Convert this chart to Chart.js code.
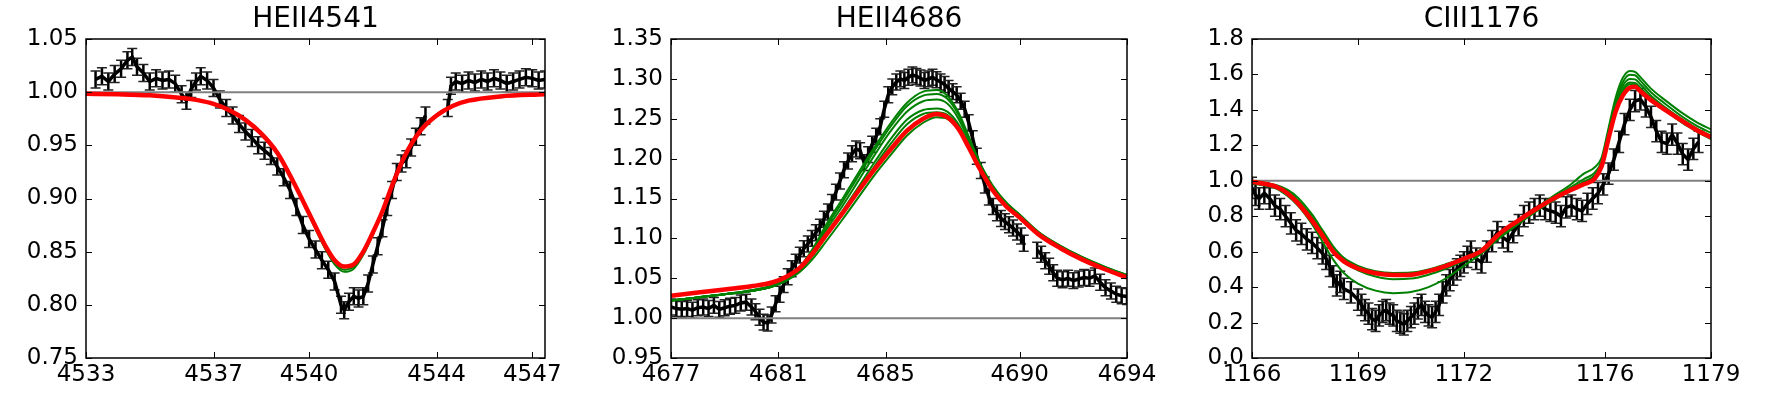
<!DOCTYPE html>
<html>
<head>
<meta charset="utf-8">
<script src="https://cdn.jsdelivr.net/npm/chart.js@4.4.1/dist/chart.umd.min.js"></script>
<style>
    body { margin: 0; background: #fff; width: 1767px; height: 394px; overflow: hidden; position: relative; }
    .panel { position: absolute; top: 0; height: 394px; }
</style>
</head>
<body>
<div class="panel" style="left:6px"><canvas id="he4541" width="579" height="394"></canvas></div>
<div class="panel" style="left:591px"><canvas id="he4686" width="576" height="394"></canvas></div>
<div class="panel" style="left:1172px"><canvas id="c1176" width="579" height="394"></canvas></div>
<script>
// ---- HEII4541 ----
const wlObs1 = [4533.3, 4533.5, 4533.7, 4533.9, 4534.1, 4534.3, 4534.45, 4534.6, 4534.8, 4535.0, 4535.2, 4535.4, 4535.6, 4535.8,
    4536.0, 4536.15, 4536.3, 4536.45, 4536.6, 4536.8, 4537.0, 4537.2, 4537.4, 4537.6, 4537.8, 4538.0, 4538.2, 4538.4, 4538.6,
    4538.8, 4539.0, 4539.2, 4539.4, 4539.6, 4539.8, 4540.0, 4540.2, 4540.4, 4540.6, 4540.8, 4541.0, 4541.1, 4541.25, 4541.4,
    4541.55, 4541.7, 4541.85, 4542.0, 4542.15, 4542.3, 4542.45, 4542.6, 4542.75, 4542.9, 4543.05, 4543.2, 4543.35, 4543.5,
    4543.65, 4544.0, 4544.35, 4544.45, 4544.6, 4544.8, 4545.0, 4545.2, 4545.4, 4545.6, 4545.8, 4546.0, 4546.2, 4546.4,
    4546.6, 4546.8, 4547.0, 4547.2, 4547.4]
const fluxObs1 = [1.012, 1.015, 1.010, 1.017, 1.022, 1.030, 1.033, 1.024, 1.018, 1.010, 1.013, 1.011, 1.012, 1.008,
    0.998, 0.992, 1.003, 1.010, 1.015, 1.011, 1.004, 0.993, 0.985, 0.978, 0.970, 0.963, 0.957, 0.950, 0.945,
    0.940, 0.930, 0.920, 0.908, 0.892, 0.875, 0.862, 0.852, 0.842, 0.833, 0.822, 0.800, 0.795, 0.803, 0.808,
    0.806, 0.808, 0.820, 0.838, 0.855, 0.872, 0.892, 0.908, 0.925, 0.933, 0.937, 0.948, 0.958, 0.968,
    0.978, null, 0.985, 1.006, 1.010, 1.008, 1.011, 1.009, 1.012, 1.010, 1.013, 1.011, 1.008, 1.010,
    1.012, 1.014, 1.013, 1.011, 1.012]
const errObs1 = 0.008
const wlMod1 = [4533, 4534, 4535, 4536, 4536.5, 4537, 4537.5, 4538, 4538.5, 4539, 4539.5, 4540, 4540.5, 4540.8,
    4541.1, 4541.4, 4541.7, 4542, 4542.3, 4542.6, 4543, 4543.5, 4544, 4544.5, 4545, 4546, 4547.4]
const redMod1 = [0.9985, 0.998, 0.997, 0.9945, 0.9925, 0.989, 0.983, 0.974, 0.961, 0.943, 0.916, 0.886, 0.856, 0.842,
    0.836, 0.838, 0.850, 0.868, 0.888, 0.912, 0.940, 0.964, 0.978, 0.987, 0.992, 0.996, 0.998]
const greenMods1 = [
    [0.9985, 0.998, 0.997, 0.9945, 0.9925, 0.989, 0.9835, 0.975, 0.962, 0.944, 0.916, 0.884, 0.853, 0.838,
        0.831, 0.834, 0.847, 0.866, 0.888, 0.913, 0.941, 0.965, 0.979, 0.987, 0.992, 0.996, 0.998],
    [0.9985, 0.998, 0.997, 0.9945, 0.9925, 0.989, 0.9832, 0.9745, 0.9615, 0.9435, 0.916, 0.885, 0.854, 0.840,
        0.833, 0.836, 0.848, 0.867, 0.888, 0.913, 0.941, 0.965, 0.979, 0.987, 0.992, 0.996, 0.998]
]
const xTicks1 = [4533, 4537, 4540, 4544, 4547]
const yTicks1 = [0.75, 0.80, 0.85, 0.90, 0.95, 1.00, 1.05]

// ---- HEII4686 ----
const wlObs2 = [4677.0, 4677.2, 4677.4, 4677.6, 4677.8, 4678.0, 4678.2, 4678.4, 4678.6, 4678.8, 4679.0, 4679.2, 4679.4,
    4679.6, 4679.8, 4680.0, 4680.15, 4680.3, 4680.45, 4680.6, 4680.75, 4680.9, 4681.05, 4681.2, 4681.35, 4681.5, 4681.65,
    4681.8, 4681.95, 4682.1, 4682.25, 4682.4, 4682.55, 4682.7, 4682.85, 4683.0, 4683.15, 4683.3, 4683.45, 4683.6, 4683.75,
    4683.9, 4684.05, 4684.2, 4684.35, 4684.5, 4684.65, 4684.8, 4684.95, 4685.1, 4685.25, 4685.4, 4685.55, 4685.7, 4685.85,
    4686.0, 4686.15, 4686.3, 4686.45, 4686.6, 4686.75, 4686.9, 4687.05, 4687.2, 4687.35, 4687.5, 4687.65, 4687.8, 4687.95,
    4688.1, 4688.25, 4688.4, 4688.55, 4688.7, 4688.85, 4689.0, 4689.15, 4689.3, 4689.45, 4689.6, 4689.75, 4689.9, 4690.05,
    4690.15, 4690.4, 4690.65, 4690.8, 4690.95, 4691.1, 4691.25, 4691.4, 4691.6, 4691.8, 4692.0, 4692.2, 4692.4, 4692.6,
    4692.8, 4693.0, 4693.2, 4693.4, 4693.6, 4693.8, 4694.0]
const fluxObs2 = [1.014, 1.012, 1.011, 1.012, 1.010, 1.013, 1.014, 1.012, 1.016, 1.011, 1.013, 1.015, 1.016,
    1.019, 1.020, 1.014, 1.008, 1.001, 0.995, 0.994, 1.004, 1.018, 1.030, 1.042, 1.052, 1.062, 1.070,
    1.079, 1.087, 1.093, 1.100, 1.107, 1.114, 1.124, 1.133, 1.145, 1.158, 1.172, 1.186, 1.197, 1.206,
    1.212, 1.210, 1.195, 1.205, 1.218, 1.228, 1.240, 1.262, 1.280, 1.290, 1.296, 1.300, 1.298, 1.302,
    1.305, 1.303, 1.301, 1.298, 1.300, 1.302, 1.299, 1.296, 1.293, 1.288, 1.284, 1.280, 1.272, 1.262,
    1.245, 1.225, 1.203, 1.185, 1.167, 1.152, 1.140, 1.132, 1.125, 1.121, 1.117, 1.113, 1.108, 1.103,
    1.094, null, 1.085, 1.080, 1.072, 1.065, 1.057, 1.050, 1.048, 1.050, 1.047, 1.049, 1.051, 1.050,
    1.053, 1.045, 1.038, 1.034, 1.030, 1.028, 1.027]
const errObs2 = 0.010
const wlMod2 = [4677, 4678, 4679, 4680, 4680.8, 4681.3, 4681.8, 4682.3, 4682.8, 4683.4, 4684, 4684.6, 4685.2, 4685.8,
    4686.4, 4686.9, 4687.3, 4687.7, 4688.1, 4688.5, 4689, 4689.5, 4690, 4690.7, 4691.5, 4692.3, 4693.2, 4694]
const redMod2 = [1.028, 1.032, 1.036, 1.040, 1.045, 1.052, 1.063, 1.082, 1.105, 1.132, 1.160, 1.187, 1.212, 1.235,
    1.250, 1.256, 1.252, 1.238, 1.214, 1.188, 1.160, 1.140, 1.126, 1.105, 1.088, 1.074, 1.061, 1.051]
const greenMods2 = [
    [1.022, 1.026, 1.030, 1.035, 1.041, 1.049, 1.064, 1.088, 1.118, 1.150, 1.183, 1.215, 1.245, 1.270,
        1.284, 1.286, 1.279, 1.259, 1.228, 1.196, 1.165, 1.144, 1.129, 1.108, 1.091, 1.077, 1.064, 1.054],
    [1.022, 1.026, 1.030, 1.035, 1.041, 1.049, 1.063, 1.086, 1.115, 1.146, 1.179, 1.211, 1.241, 1.266,
        1.279, 1.281, 1.275, 1.256, 1.226, 1.195, 1.164, 1.143, 1.128, 1.107, 1.090, 1.076, 1.063, 1.053],
    [1.022, 1.026, 1.030, 1.034, 1.040, 1.048, 1.062, 1.084, 1.111, 1.141, 1.173, 1.205, 1.235, 1.259,
        1.272, 1.274, 1.269, 1.251, 1.223, 1.193, 1.163, 1.142, 1.128, 1.107, 1.090, 1.076, 1.063, 1.053],
    [1.022, 1.026, 1.030, 1.034, 1.040, 1.048, 1.061, 1.081, 1.106, 1.135, 1.165, 1.196, 1.225, 1.249,
        1.261, 1.263, 1.259, 1.244, 1.219, 1.191, 1.162, 1.142, 1.127, 1.107, 1.090, 1.076, 1.063, 1.053],
    [1.022, 1.026, 1.030, 1.034, 1.040, 1.047, 1.060, 1.079, 1.103, 1.131, 1.161, 1.191, 1.219, 1.243,
        1.256, 1.258, 1.255, 1.241, 1.218, 1.190, 1.162, 1.142, 1.127, 1.107, 1.090, 1.076, 1.063, 1.054],
    [1.022, 1.026, 1.030, 1.034, 1.040, 1.047, 1.058, 1.075, 1.097, 1.124, 1.152, 1.180, 1.205, 1.229,
        1.245, 1.252, 1.250, 1.238, 1.218, 1.194, 1.166, 1.145, 1.130, 1.108, 1.091, 1.077, 1.064, 1.054]
]
const xTicks2 = [4677, 4681, 4685, 4690, 4694]
const yTicks2 = [0.95, 1.00, 1.05, 1.10, 1.15, 1.20, 1.25, 1.30, 1.35]

// ---- CIII1176 ----
const wlObs3 = [1166.0, 1166.1, 1166.2, 1166.35, 1166.5, 1166.65, 1166.8, 1166.95, 1167.1, 1167.25, 1167.4, 1167.55,
    1167.7, 1167.85, 1168.0, 1168.1, 1168.2, 1168.3, 1168.4, 1168.5, 1168.6, 1168.8, 1169.0, 1169.1, 1169.2, 1169.3,
    1169.4, 1169.5, 1169.6, 1169.7, 1169.8, 1169.9, 1170.0, 1170.1, 1170.2, 1170.3, 1170.4, 1170.5, 1170.6, 1170.7,
    1170.8, 1170.9, 1171.0, 1171.1, 1171.2, 1171.3, 1171.4, 1171.5, 1171.6, 1171.7, 1171.8, 1171.9, 1172.0, 1172.1,
    1172.2, 1172.35, 1172.5, 1172.65, 1172.8, 1172.95, 1173.1, 1173.25, 1173.4, 1173.55, 1173.7, 1173.85, 1174.0,
    1174.15, 1174.3, 1174.45, 1174.6, 1174.75, 1174.9, 1175.05, 1175.2, 1175.35, 1175.5, 1175.65, 1175.8, 1175.95,
    1176.1, 1176.25, 1176.4, 1176.55, 1176.7, 1176.85, 1177.0, 1177.15, 1177.3, 1177.45, 1177.6, 1177.75, 1177.9,
    1178.05, 1178.2, 1178.35, 1178.5, 1178.65]
const fluxObs3 = [0.96, 0.92, 0.90, 0.93, 0.90, 0.86, 0.84, 0.80, 0.76, 0.72, 0.70, 0.67,
    0.65, 0.62, 0.59, 0.56, 0.52, 0.46, 0.41, 0.43, 0.39, 0.37, 0.33, 0.30, 0.27, 0.25,
    0.22, 0.21, 0.24, 0.26, 0.27, 0.25, 0.24, 0.21, 0.20, 0.19, 0.21, 0.23, 0.25, 0.28,
    0.30, 0.26, 0.24, 0.23, 0.26, 0.30, 0.37, 0.41, 0.44, 0.47, 0.50, 0.52, 0.54, 0.57,
    0.60, 0.56, 0.54, 0.60, 0.66, 0.71, 0.68, 0.66, 0.71, 0.75, 0.80, 0.82, 0.84,
    0.86, 0.84, 0.83, 0.82, 0.80, 0.85, 0.86, 0.84, 0.83, 0.87, 0.90, 0.93, 0.98,
    1.04, 1.12, 1.22, 1.32, 1.40, 1.45, 1.46, 1.42, 1.36, 1.28, 1.22, 1.21, 1.26,
    1.21, 1.15, 1.12, 1.18, 1.22]
const errObs3 = 0.06
const wlMod3 = [1166, 1166.3, 1166.7, 1167.0, 1167.3, 1167.7, 1168.0, 1168.3, 1168.6, 1169.0, 1169.5, 1170.0, 1170.5,
    1171.0, 1171.5, 1172.0, 1172.5, 1173.0, 1173.5, 1174.0, 1174.5, 1175.0, 1175.4, 1175.7, 1175.9, 1176.1, 1176.3,
    1176.5, 1176.7, 1176.85, 1177.0, 1177.3, 1177.7, 1178.2, 1178.6, 1179]
const redMod3 = [0.995, 0.985, 0.965, 0.930, 0.874, 0.775, 0.690, 0.600, 0.545, 0.505, 0.478, 0.468, 0.470,
    0.490, 0.520, 0.560, 0.605, 0.700, 0.770, 0.835, 0.895, 0.945, 0.980, 1.010, 1.080, 1.240, 1.390,
    1.480, 1.525, 1.530, 1.505, 1.455, 1.400, 1.335, 1.285, 1.245]
const greenMods3 = [
    [1.000, 0.990, 0.975, 0.950, 0.905, 0.810, 0.720, 0.630, 0.565, 0.520, 0.490, 0.480, 0.482,
        0.500, 0.530, 0.565, 0.612, 0.690, 0.765, 0.840, 0.910, 0.975, 1.040, 1.075, 1.130, 1.300, 1.470,
        1.580, 1.620, 1.615, 1.585, 1.520, 1.455, 1.380, 1.330, 1.290],
    [0.995, 0.988, 0.970, 0.940, 0.890, 0.795, 0.705, 0.615, 0.555, 0.510, 0.478, 0.465, 0.468,
        0.488, 0.518, 0.556, 0.605, 0.685, 0.760, 0.830, 0.900, 0.960, 1.010, 1.045, 1.110, 1.280, 1.445,
        1.555, 1.598, 1.595, 1.565, 1.500, 1.435, 1.360, 1.310, 1.270],
    [0.990, 0.982, 0.962, 0.930, 0.878, 0.780, 0.690, 0.600, 0.540, 0.495, 0.460, 0.445, 0.448,
        0.470, 0.505, 0.548, 0.600, 0.680, 0.755, 0.825, 0.890, 0.950, 0.995, 1.030, 1.095, 1.265, 1.425,
        1.535, 1.575, 1.572, 1.545, 1.480, 1.415, 1.340, 1.292, 1.252],
    [0.985, 0.975, 0.955, 0.915, 0.860, 0.755, 0.655, 0.555, 0.480, 0.420, 0.380, 0.366, 0.372,
        0.400, 0.450, 0.520, 0.590, 0.675, 0.750, 0.820, 0.885, 0.940, 0.985, 1.020, 1.085, 1.250, 1.405,
        1.515, 1.555, 1.552, 1.525, 1.465, 1.400, 1.325, 1.278, 1.235],
    [0.995, 0.987, 0.968, 0.935, 0.880, 0.782, 0.697, 0.607, 0.550, 0.508, 0.482, 0.474, 0.476,
        0.495, 0.524, 0.563, 0.613, 0.694, 0.768, 0.838, 0.898, 0.950, 0.990, 1.020, 1.090, 1.255, 1.405,
        1.500, 1.545, 1.543, 1.518, 1.465, 1.410, 1.345, 1.295, 1.255]
]
const xTicks3 = [1166, 1169, 1172, 1176, 1179]
const yTicks3 = [0.0, 0.2, 0.4, 0.6, 0.8, 1.0, 1.2, 1.4, 1.6, 1.8]

const fontFamily = "'DejaVu Sans', sans-serif"

function pairs(xs, ys) {
    return xs.map((x, i) => ({ x: x, y: ys[i] }))
}

// vertical error bars with caps, drawn under the lines
const errorBarPlugin = {
    id: 'errorBars',
    beforeDatasetsDraw(chart) {
        let ctx = chart.ctx
        let area = chart.chartArea
        let yScale = chart.scales.y
        ctx.save()
        ctx.beginPath()
        ctx.rect(area.left, area.top, area.width, area.height)
        ctx.clip()
        chart.data.datasets.forEach((ds, i) => {
            if (!ds.errorBar) return
            let meta = chart.getDatasetMeta(i)
            meta.data.forEach((pt, j) => {
                let v = ds.data[j].y
                if (v == null) return
                let top = yScale.getPixelForValue(v + ds.errorBar)
                let bot = yScale.getPixelForValue(v - ds.errorBar)
                ctx.strokeStyle = '#000'
                ctx.lineWidth = 2.5
                ctx.beginPath()
                ctx.moveTo(pt.x, top)
                ctx.lineTo(pt.x, bot)
                ctx.stroke()
                ctx.strokeStyle = '#222'
                ctx.lineWidth = 1.5
                ctx.beginPath()
                ctx.moveTo(pt.x - 5, top)
                ctx.lineTo(pt.x + 5, top)
                ctx.moveTo(pt.x - 5, bot)
                ctx.lineTo(pt.x + 5, bot)
                ctx.stroke()
            })
        })
        ctx.restore()
    }
}

// matplotlib-style box with inward ticks on all four sides
const framePlugin = {
    id: 'frame',
    afterDatasetsDraw(chart) {
        let ctx = chart.ctx
        let a = chart.chartArea
        let xs = chart.scales.x
        let ys = chart.scales.y
        ctx.save()
        ctx.strokeStyle = '#000'
        ctx.lineWidth = 1
        ctx.beginPath()
        xs.ticks.forEach(t => {
            let px = Math.round(xs.getPixelForValue(t.value)) + 0.5
            ctx.moveTo(px, a.bottom)
            ctx.lineTo(px, a.bottom - 6)
            ctx.moveTo(px, a.top)
            ctx.lineTo(px, a.top + 6)
        })
        ys.ticks.forEach(t => {
            let py = Math.round(ys.getPixelForValue(t.value)) + 0.5
            ctx.moveTo(a.left, py)
            ctx.lineTo(a.left + 6, py)
            ctx.moveTo(a.right, py)
            ctx.lineTo(a.right - 6, py)
        })
        ctx.stroke()
        ctx.lineWidth = 1.5
        ctx.strokeRect(a.left, a.top, a.right - a.left, a.bottom - a.top)
        ctx.restore()
    }
}

function drawPanel(canvasId, panel) {
    let xMin = panel.xTicks[0]
    let datasets = [
        {
            data: pairs(panel.wlMod, panel.red),
            borderColor: '#ff0000',
            borderWidth: 4.5,
            cubicInterpolationMode: 'monotone',
            order: 0
        },
        {
            data: [{ x: xMin, y: 1 }, { x: panel.xMax, y: 1 }],
            borderColor: '#808080',
            borderWidth: 2,
            order: 2
        },
        ...panel.greens.map(g => ({
            data: pairs(panel.wlMod, g),
            borderColor: '#008000',
            borderWidth: 2,
            cubicInterpolationMode: 'monotone',
            order: 1
        })),
        {
            data: pairs(panel.wlObs, panel.flux),
            borderColor: '#000',
            borderWidth: 3.5,
            errorBar: panel.err,
            order: 3
        }
    ]

    let config = {
        type: 'line',
        data: { datasets: datasets },
        options: {
            responsive: false,
            animation: false,
            layout: { padding: { left: 0, right: 40, top: 0, bottom: 0 } },
            elements: { point: { radius: 0 } },
            plugins: {
                legend: { display: false },
                tooltip: { enabled: false },
                title: {
                    display: true,
                    text: panel.title,
                    color: '#000',
                    fullSize: false,
                    font: { family: fontFamily, size: 28, weight: 'normal', lineHeight: 1.2 },
                    padding: { top: 3, bottom: 2.4 }
                }
            },
            scales: {
                x: {
                    type: 'linear',
                    min: xMin,
                    max: panel.xMax,
                    afterBuildTicks: s => { s.ticks = panel.xTicks.map(v => ({ value: v })) },
                    afterFit: s => { s.height = 36 },
                    grid: { display: false, drawTicks: false },
                    border: { display: false },
                    ticks: {
                        autoSkip: false,
                        maxRotation: 0,
                        padding: 3,
                        color: '#000',
                        font: { family: fontFamily, size: 23 },
                        callback: value => `${value}`
                    }
                },
                y: {
                    type: 'linear',
                    min: panel.yTicks[0],
                    max: panel.yTicks[panel.yTicks.length - 1],
                    afterBuildTicks: s => { s.ticks = panel.yTicks.map(v => ({ value: v })) },
                    afterFit: s => { s.width = 80 },
                    grid: { display: false, drawTicks: false },
                    border: { display: false },
                    ticks: {
                        padding: 8,
                        color: '#000',
                        font: { family: fontFamily, size: 23 },
                        callback: value => value.toFixed(panel.decimals)
                    }
                }
            }
        },
        plugins: [errorBarPlugin, framePlugin]
    }
    return new Chart(document.getElementById(canvasId), config)
}

drawPanel('he4541', {
    title: 'HEII4541', wlObs: wlObs1, flux: fluxObs1, err: errObs1,
    wlMod: wlMod1, red: redMod1, greens: greenMods1,
    xTicks: xTicks1, xMax: 4547.4, yTicks: yTicks1, decimals: 2
})
drawPanel('he4686', {
    title: 'HEII4686', wlObs: wlObs2, flux: fluxObs2, err: errObs2,
    wlMod: wlMod2, red: redMod2, greens: greenMods2,
    xTicks: xTicks2, xMax: 4694, yTicks: yTicks2, decimals: 2
})
drawPanel('c1176', {
    title: 'CIII1176', wlObs: wlObs3, flux: fluxObs3, err: errObs3,
    wlMod: wlMod3, red: redMod3, greens: greenMods3,
    xTicks: xTicks3, xMax: 1179, yTicks: yTicks3, decimals: 1
})
</script>
</body>
</html>
